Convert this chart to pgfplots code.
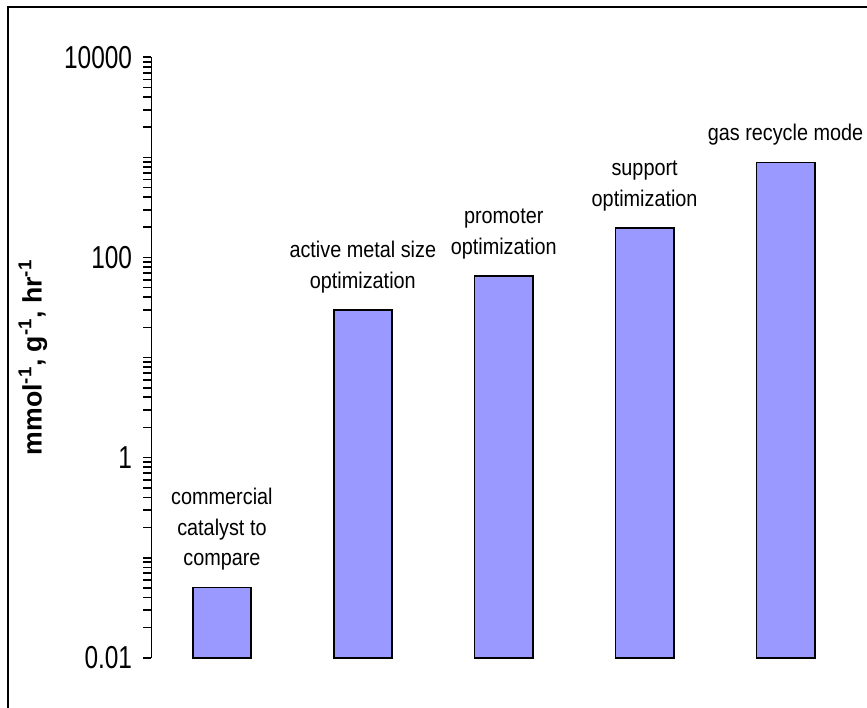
\documentclass[border=0pt]{standalone}
\usepackage{pgfplots}
\pgfplotsset{compat=1.18}
\usepackage{fontspec}
\setmainfont{Liberation Sans}
\newfontfamily\tickfont{Liberation Sans}[FakeStretch=0.77]
\newfontfamily\barfont{Liberation Sans}[FakeStretch=0.875]
\definecolor{barblue}{RGB}{153,153,255}

\begin{document}
\begin{tikzpicture}
\useasboundingbox (0,0) rectangle (650.25pt,-530.25pt);
% outer frame of the chart area
\draw[line width=1.5pt] (6pt,-540pt) -- (6pt,-5.6pt) -- (660pt,-5.6pt);
\begin{axis}[
  at={(113.6pt,-493.3pt)}, anchor=south west,
  scale only axis, width=538.95pt, height=450.3pt,
  ybar, bar width=43.7pt,
  ymode=log, ymin=0.01, ymax=10000, log origin=infty,
  xmin=-0.5, xmax=4.6,
  axis x line=none, axis y line*=left,
  axis line style={line width=1.4pt, black},
  ytick={0.01,1,100,10000},
  yticklabels={0.01,1,100,10000},
  minor ytick={0.02,0.03,0.04,0.05,0.06,0.07,0.08,0.09,0.1,
    0.2,0.3,0.4,0.5,0.6,0.7,0.8,0.9,
    2,3,4,5,6,7,8,9,10,20,30,40,50,60,70,80,90,
    200,300,400,500,600,700,800,900,1000,
    2000,3000,4000,5000,6000,7000,8000,9000},
  tick align=outside,
  major tick length=6pt, minor tick length=6pt,
  tick style={line width=1.3pt, black},
  minor tick style={line width=1.3pt, black},
  /pgf/number format/assume math mode=true,
  yticklabel style={font=\tickfont\fontsize{23.8}{28}\selectfont,
    text=black, xshift=-5pt},
  ylabel={mmol\textsuperscript{-1}, g\textsuperscript{-1}, hr\textsuperscript{-1}},
  ylabel style={at={(axis description cs:-0.165,0.5)}, anchor=center,
    font=\fontsize{20}{23}\selectfont\bfseries},
  clip=false,
]
\addplot[fill=barblue, draw=black, line width=1.3pt,
  nodes near coords, point meta=explicit symbolic,
  nodes near coords style={anchor=south, align=center, inner sep=0pt,
    yshift=12pt, text=black,
    font=\barfont\fontsize{17}{23}\selectfont}]
  coordinates {
    (0,0.0505) [commercial\\catalyst to\\compare]
    (1,29.8)   [active metal size\\optimization]
    (2,65.2)   [promoter\\optimization]
    (3,198)    [support\\optimization]
    (4,892)    [gas recycle mode]
  };
\end{axis}
\end{tikzpicture}
\end{document}
